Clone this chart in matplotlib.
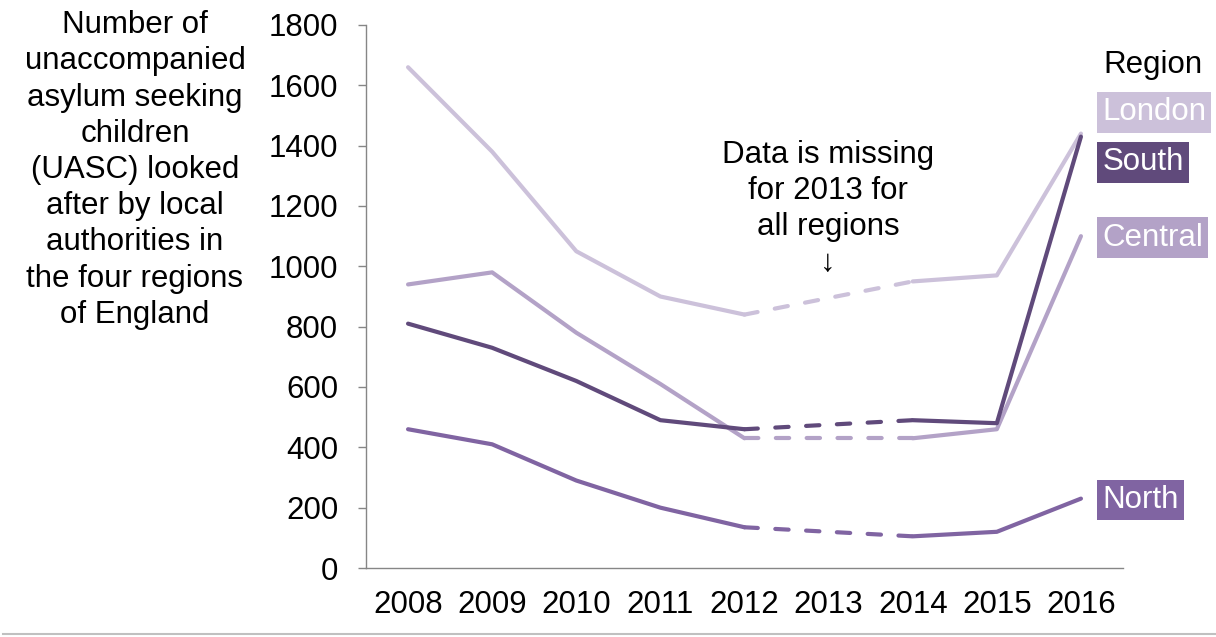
import matplotlib
matplotlib.use("Agg")
import matplotlib.pyplot as plt
import numpy as np

plt.rcParams['font.family'] = ['Liberation Sans', 'DejaVu Sans']

years = ["2008", "2009", "2010", "2011", "2012", "2013", "2014", "2015", "2016"]
regions = ["London", "South", "Central", "North"]
# None marks the year with no data (2013)
london = [1660, 1380, 1050, 900, 840, None, 950, 970, 1440]
south = [810, 730, 620, 490, 460, None, 490, 480, 1430]
central = [940, 980, 780, 610, 430, None, 430, 460, 1100]
north = [460, 410, 290, 200, 135, None, 105, 120, 230]
series = {"London": london, "South": south, "Central": central, "North": north}
colors = {"London": "#ccc1da", "South": "#604a7b", "Central": "#b3a2c7", "North": "#8064a2"}
label_y = {"London": 1510, "South": 1345, "Central": 1095, "North": 225}
y_ticks = [0, 200, 400, 600, 800, 1000, 1200, 1400, 1600, 1800]

FS = 22.5
W, H = 1216, 637
fig = plt.figure(figsize=(W / 100, H / 100), dpi=100)
ax = fig.add_axes([366 / W, (H - 568) / H, (1123 - 366) / W, (568 - 25) / H])

x = np.arange(len(years))
draw_order = ["London", "Central", "South", "North"]
for name in draw_order:
    vals = series[name]
    col = colors[name]
    y = np.array([np.nan if v is None else v for v in vals], dtype=float)
    ax.plot(x, y, color=col, lw=3, solid_capstyle="round", solid_joinstyle="round", zorder=3)
    # bridge the missing year with a dashed segment between the neighbouring years
    for i, v in enumerate(vals):
        if v is None and 0 < i < len(vals) - 1:
            ax.plot([x[i - 1], x[i + 1]], [vals[i - 1], vals[i + 1]], color=col, lw=3,
                    linestyle=(0, (3.2, 4.2)), dash_capstyle="round", zorder=3)

ax.set_xlim(-0.5, len(years) - 0.5)
ax.set_ylim(0, 1800)
ax.set_xticks(x)
ax.set_xticklabels(years)
ax.set_yticks(y_ticks)
ax.tick_params(axis="y", length=6, width=1, color="#868686", pad=14, labelsize=FS)
ax.tick_params(axis="x", length=0, pad=16, labelsize=FS)
for s in ["top", "right"]:
    ax.spines[s].set_visible(False)
for s in ["left", "bottom"]:
    ax.spines[s].set_color("#868686")
    ax.spines[s].set_linewidth(1)

# region labels at the right end of each line
for name in regions:
    ax.annotate(name, xy=(1.0, label_y[name]), xycoords=("axes fraction", "data"),
                xytext=(-15, 0), textcoords="offset points", ha="left", va="center",
                fontsize=FS, color="white", annotation_clip=False,
                bbox=dict(boxstyle="square,pad=0.17", fc=colors[name], ec="none"))
fig.text(1153 / W, 1 - 65 / H, "Region", ha="center", va="center", fontsize=FS, color="black")

# note about the missing year
fig.text(828 / W, 1 - 209 / H, "Data is missing\nfor 2013 for\nall regions\n\u2193",
         ha="center", va="center", fontsize=FS, linespacing=1.27)

# axis title block on the left
fig.text(135 / W, 1 - 170 / H,
         "Number of\nunaccompanied\nasylum seeking\nchildren\n(UASC) looked\nafter by local\n"
         "authorities in\nthe four regions\nof England",
         ha="center", va="center", fontsize=FS, linespacing=1.27)

# thin rule along the bottom edge
fig.add_artist(plt.Line2D([3 / W, 1], [1 - 634 / H, 1 - 634 / H], color="#c0c0c0", lw=1.5,
                          transform=fig.transFigure))

fig.savefig("out.png", dpi=100)
